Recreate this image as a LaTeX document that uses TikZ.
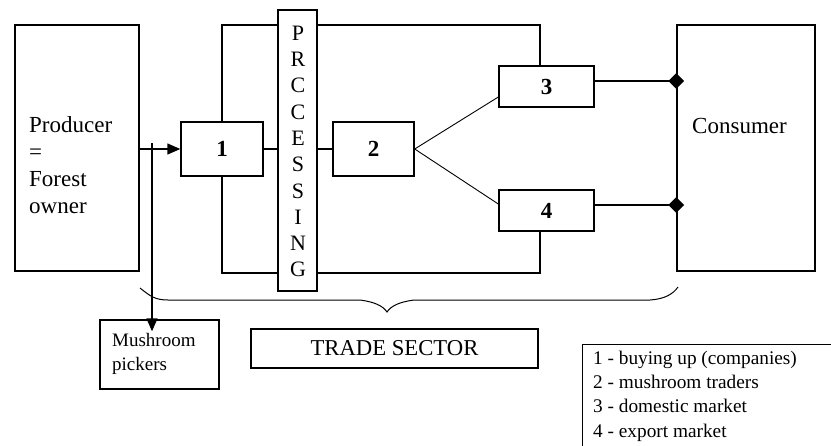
\documentclass[tikz,border=0pt]{standalone}
\usepackage{fontspec}
\setmainfont{Liberation Serif}
\usetikzlibrary{arrows.meta,shapes.geometric,calc}
\begin{document}
\begin{tikzpicture}[x=1pt,y=-1pt,
  box/.style={draw, line width=1.4pt, inner sep=0pt, rectangle},
  conn/.style={line width=1.4pt},
  thinconn/.style={line width=0.9pt},
  big/.style={inner sep=0pt, font=\fontsize{23}{27}\selectfont},
  small/.style={inner sep=0pt, font=\fontsize{19}{23.5}\selectfont},
  num/.style={font=\fontsize{23}{26}\selectfont\bfseries},
  tipend/.style={-{Triangle[length=13pt,width=11pt]}},
  dia/.style={diamond, fill=black, inner sep=0pt, minimum width=16pt, minimum height=16pt}]
\useasboundingbox (0,0) rectangle (831,445);
\clip (0,0) rectangle (831,445);
\fill[white] (0,0) rectangle (831,445);
% boxes
\node[box, minimum width=124pt, minimum height=246pt] (prod) at (77,148) {};
\node[big, align=left, anchor=west] (prodtxt) at (29,165) {Producer\\=\\Forest\\owner};
\node[box, minimum width=82pt, minimum height=54pt, num] (b1) at (222,149) {1};
\node[box, minimum width=39pt, minimum height=281pt] (proc) at (297.5,150.5) {};
\node[inner sep=0pt, align=center, font=\fontsize{22}{26.3}\selectfont] (proctxt) at (298,151.5) {P\\R\\C\\C\\E\\S\\S\\I\\N\\G};
\node[box, minimum width=81pt, minimum height=54pt, num] (b2) at (373.5,149) {2};
\node[box, minimum width=95pt, minimum height=41pt, num] (b3) at (546.5,86.5) {3};
\node[box, minimum width=95pt, minimum height=41pt, num] (b4) at (546.5,210.5) {4};
\node[box, minimum width=138pt, minimum height=246pt] (cons) at (746,148) {};
\node[big] (constxt) at (739.5,126) {Consumer};
\node[box, minimum width=119pt, minimum height=69pt] (pick) at (159.5,354.5) {};
\node[small, align=left, anchor=west] (picktxt) at (112,354) {Mushroom\\pickers};
\node[box, minimum width=287pt, minimum height=39pt, font=\fontsize{22.7}{26}\selectfont] (trade) at (394.5,348.5) {TRADE SECTOR};
\node[box, minimum width=290pt, minimum height=150pt, anchor=north west] (leg) at (582,344) {};
\node[inner sep=0pt, align=left, anchor=west, font=\fontsize{19.3}{24.3}\selectfont] (legtxt) at (593,396)
  {1 - buying up (companies)\\2 - mushroom traders\\3 - domestic market\\4 - export market};
% helper coordinates
\coordinate (ytop) at (0,25);
\coordinate (ybot) at (0,273);
\coordinate (xr) at (540,0);
\coordinate (split) at (152,143);
\coordinate (y3) at (0,81);
\coordinate (y4) at (0,205);
\node[dia] (d3) at (cons.west |- y3) {};
\node[dia] (d4) at (cons.west |- y4) {};
% connectors
\draw[conn,tipend] (prod.east |- b1.west) -- (b1.west);
\draw[conn,tipend] (split) -- ($(split |- pick.north)+(0,12)$);
\draw[conn] (b1.north) |- (proc.west |- ytop);
\draw[conn] (b1.south) |- (proc.west |- ybot);
\draw[conn] (proc.east |- ytop) -| (xr |- b3.north);
\draw[conn] (proc.east |- ybot) -| (xr |- b4.south);
\draw[conn] (b1.east) -- (proc.west |- b1.east);
\draw[conn] (proc.east |- b2.west) -- (b2.west);
\draw[thinconn] (b2.east) -- ($(b3.west)+(0,10.5)$);
\draw[thinconn] (b2.east) -- ($(b4.west)+(0,-6.5)$);
\draw[conn] (b3.east |- d3) -- (d3.center);
\draw[conn] (b4.east |- d4) -- (d4.center);
% brace
\draw[line width=1pt] (140,288) .. controls (150,296) and (155,300) .. (168,300) -- (360,300)
  .. controls (375,302) and (383,306) .. (387,312)
  .. controls (391,306) and (399,302) .. (414,300) -- (650,300)
  .. controls (665,299) and (673,294) .. (678,287);
\end{tikzpicture}
\end{document}
